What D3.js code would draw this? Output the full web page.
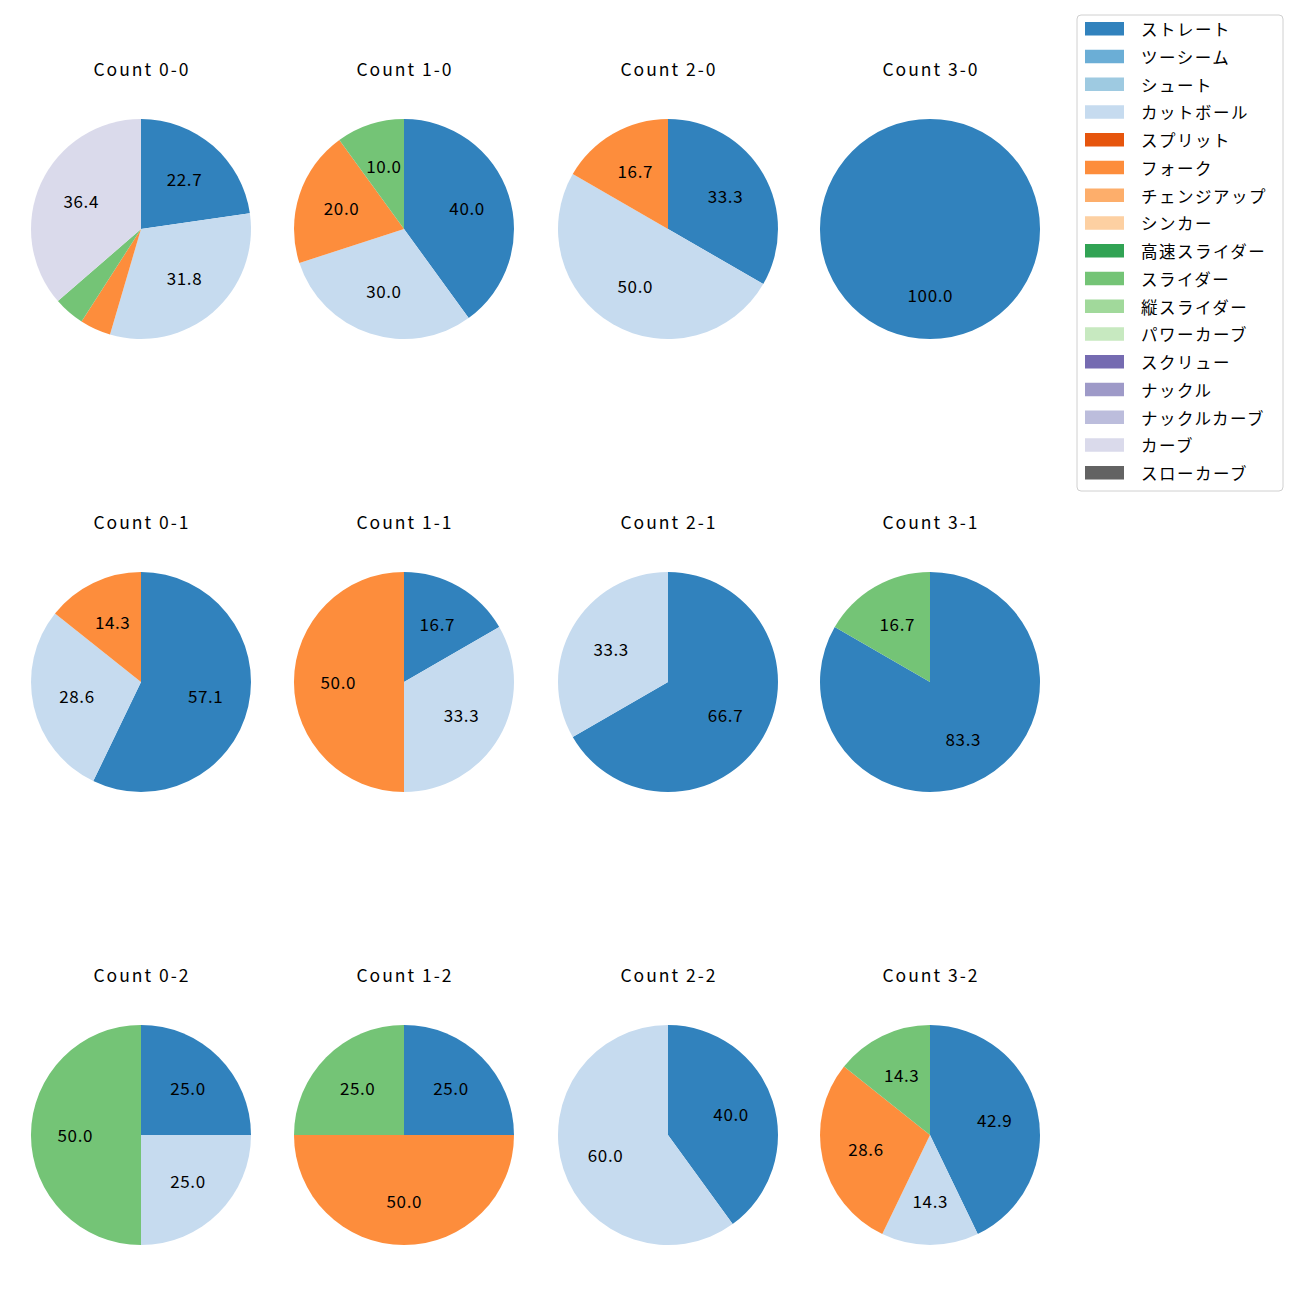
<!DOCTYPE html>
<html>
<head>
<meta charset="utf-8">
<script src="https://cdn.jsdelivr.net/npm/d3@7"></script>
<style>
  body { margin: 0; background: #fff; }
  text { font-family: "Noto Sans CJK JP", "Noto Sans", sans-serif; fill: #000; }
</style>
</head>
<body>
<div id="chart"></div>
<script>
// pitch types (legend order) and colours
var pitchTypes = ["ストレート", "ツーシーム", "シュート", "カットボール", "スプリット", "フォーク",
  "チェンジアップ", "シンカー", "高速スライダー", "スライダー", "縦スライダー", "パワーカーブ",
  "スクリュー", "ナックル", "ナックルカーブ", "カーブ", "スローカーブ"];
var pitchColors = ["#3182bd", "#6baed6", "#9ecae1", "#c6dbef", "#e6550d", "#fd8d3c",
  "#fdae6b", "#fdd0a2", "#31a354", "#74c476", "#a1d99b", "#c7e9c0",
  "#756bb1", "#9e9ac8", "#bcbddc", "#dadaeb", "#636363"];

// counts: balls-strikes
var counts = ["0-0", "1-0", "2-0", "3-0", "0-1", "1-1", "2-1", "3-1", "0-2", "1-2", "2-2", "3-2"];
// pitch numbers per count, by pitch type
var pitches = [
  {"ストレート": 5, "カットボール": 7, "フォーク": 1, "スライダー": 1, "カーブ": 8},
  {"ストレート": 4, "カットボール": 3, "フォーク": 2, "スライダー": 1},
  {"ストレート": 2, "カットボール": 3, "フォーク": 1},
  {"ストレート": 3},
  {"ストレート": 4, "カットボール": 2, "フォーク": 1},
  {"ストレート": 1, "カットボール": 2, "フォーク": 3},
  {"ストレート": 2, "カットボール": 1},
  {"ストレート": 5, "スライダー": 1},
  {"ストレート": 1, "カットボール": 1, "スライダー": 2},
  {"ストレート": 1, "フォーク": 2, "スライダー": 1},
  {"ストレート": 2, "カットボール": 3},
  {"ストレート": 3, "カットボール": 1, "フォーク": 2, "スライダー": 1}
];

///////////////////////////////////////////
// layout
///////////////////////////////////////////
var width = 1300, height = 1300;
var colX = [141, 404, 668, 930];
var rowY = [229, 682, 1135];
var radius = 110;

var color = d3.scaleOrdinal().domain(pitchTypes).range(pitchColors);

var svg = d3.select("#chart").append("svg")
  .attr("width", width)
  .attr("height", height);

var pie = d3.pie()
  .sort(null)
  .value(function(d) { return d.value; })
  .startAngle(0)
  .endAngle(2 * Math.PI);

var arc = d3.arc().innerRadius(0).outerRadius(radius);
var labelArc = d3.arc().innerRadius(radius * 0.6).outerRadius(radius * 0.6);

counts.forEach(function(c, i) {
  var cx = colX[i % 4], cy = rowY[Math.floor(i / 4)];
  var data = pitchTypes
    .filter(function(p) { return pitches[i][p]; })
    .map(function(p) { return {type: p, value: pitches[i][p]}; });
  var total = d3.sum(data, function(d) { return d.value; });

  var g = svg.append("g").attr("transform", "translate(" + cx + "," + cy + ")");

  g.append("text")
    .attr("x", 1)
    .attr("y", -radius - 51)
    .attr("text-anchor", "middle")
    .attr("dominant-baseline", "central")
    .style("font-size", "17.5px")
    .style("letter-spacing", "2px")
    .text("Count " + c);

  var arcs = pie(data);
  g.selectAll("path")
    .data(arcs)
    .enter().append("path")
    .attr("d", arc)
    .attr("fill", function(d) { return color(d.data.type); });

  // small slices carry no label
  g.selectAll(".lbl")
    .data(arcs.filter(function(d) { return d.data.value / total * 100 >= 5; }))
    .enter().append("text")
    .attr("class", "lbl")
    .attr("transform", function(d) {
      var p = labelArc.centroid(d);
      return "translate(" + (p[0] + 0.3) + "," + (p[1] - 1) + ")";
    })
    .attr("text-anchor", "middle")
    .attr("dominant-baseline", "central")
    .style("font-size", "17px")
    .style("letter-spacing", "0.6px")
    .text(function(d) { return (d.data.value / total * 100).toFixed(1); });
});

///////////////////////////////////////////
// legend
///////////////////////////////////////////
var legend = svg.append("g").attr("transform", "translate(1077,15)");
legend.append("rect")
  .attr("width", 206)
  .attr("height", 476)
  .attr("rx", 4)
  .attr("fill", "#fff")
  .attr("stroke", "#d0d0d0");

var items = legend.selectAll(".item")
  .data(pitchTypes)
  .enter().append("g")
  .attr("class", "item")
  .attr("transform", function(d, i) { return "translate(0," + (14 + i * 27.75) + ")"; });

items.append("rect")
  .attr("x", 8)
  .attr("y", -7)
  .attr("width", 39)
  .attr("height", 13.5)
  .attr("fill", function(d) { return color(d); });

items.append("text")
  .attr("x", 64)
  .attr("y", 0)
  .attr("dominant-baseline", "central")
  .style("font-size", "16.5px")
  .style("letter-spacing", "1.5px")
  .text(function(d) { return d; });
</script>
</body>
</html>
